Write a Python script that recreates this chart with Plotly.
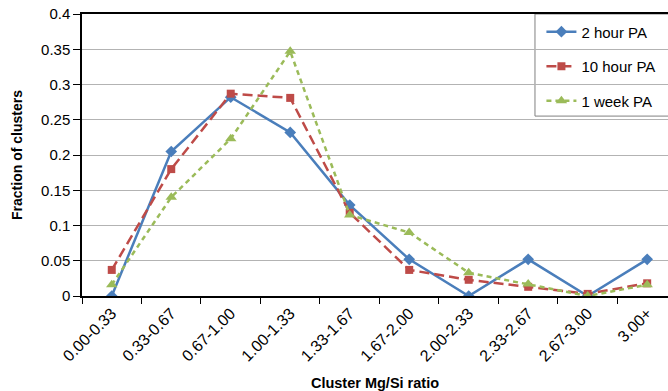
import plotly.graph_objects as go

categories = ["0.00-0.33", "0.33-0.67", "0.67-1.00", "1.00-1.33", "1.33-1.67",
              "1.67-2.00", "2.00-2.33", "2.33-2.67", "2.67-3.00", "3.00+"]
two_hour = [0.0, 0.205, 0.282, 0.232, 0.129, 0.052, 0.0, 0.052, 0.0, 0.052]
ten_hour = [0.037, 0.180, 0.287, 0.281, 0.118, 0.037, 0.023, 0.013, 0.003, 0.018]
one_week = [0.016, 0.140, 0.223, 0.347, 0.115, 0.090, 0.033, 0.017, 0.0, 0.016]
y_ticks = [0, 0.05, 0.1, 0.15, 0.2, 0.25, 0.3, 0.35, 0.4]
y_tick_text = ["0", "0.05", "0.1", "0.15", "0.2", "0.25", "0.3", "0.35", "0.4"]

FONT = "Arial"

fig = go.Figure()
fig.add_trace(go.Scatter(x=categories, y=two_hour, name="2 hour PA", mode="lines+markers",
                         legendgroup="a",
                         line=dict(color="#4a7ebb", width=2.5),
                         marker=dict(symbol="diamond", size=9, color="#4a7ebb")))
fig.add_trace(go.Scatter(x=categories, y=ten_hour, name="10 hour PA", mode="lines+markers",
                         legendgroup="b",
                         line=dict(color="#be4b48", width=2.5, dash="10px,5px"),
                         marker=dict(symbol="square", size=8, color="#be4b48")))
fig.add_trace(go.Scatter(x=categories, y=one_week, name="1 week PA", mode="lines+markers",
                         legendgroup="c",
                         line=dict(color="#9bbb59", width=2.5, dash="5px,4px"),
                         marker=dict(symbol="triangle-up", size=10, color="#9bbb59")))

fig.update_layout(
    width=668, height=391,
    margin=dict(l=82, r=0, t=14, b=95),
    paper_bgcolor="white", plot_bgcolor="white",
    font=dict(family=FONT, size=15, color="#000000"),
    showlegend=True,
    legend=dict(x=0.784, y=0.995, xanchor="left", yanchor="top",
                bgcolor="rgba(0,0,0,0)", borderwidth=0,
                font=dict(family=FONT, size=15, color="#000000"),
                tracegroupgap=12, itemwidth=30),
    shapes=[dict(type="rect", xref="paper", yref="paper", x0=0.773, x1=1.2,
                 y0=0.638, y1=1.0, line=dict(color="#808080", width=1),
                 fillcolor="white", layer="below")],
)
fig.update_xaxes(
    type="category", range=[-0.5, 9.35],
    tickangle=-45, tickfont=dict(family=FONT, size=16, color="#000000"),
    ticks="outside", tickson="boundaries", ticklen=6, tickcolor="#000000",
    showline=True, linecolor="#000000", linewidth=1.5, mirror=True,
    showgrid=False,
    title=dict(text="<b>Cluster Mg/Si ratio</b>", font=dict(family=FONT, size=14.5), standoff=14),
)
fig.update_yaxes(
    range=[0, 0.4], tickvals=y_ticks, ticktext=y_tick_text,
    tickfont=dict(family=FONT, size=15, color="#000000"),
    ticks="outside", ticklen=7, tickcolor="#000000",
    showline=True, linecolor="#000000", linewidth=1.5,
    showgrid=True, gridcolor="#b3b3b3", gridwidth=1, zeroline=False,
    title=dict(text="<b>Fraction of clusters</b>", font=dict(family=FONT, size=14), standoff=15),
)

fig.write_html("out.html")
